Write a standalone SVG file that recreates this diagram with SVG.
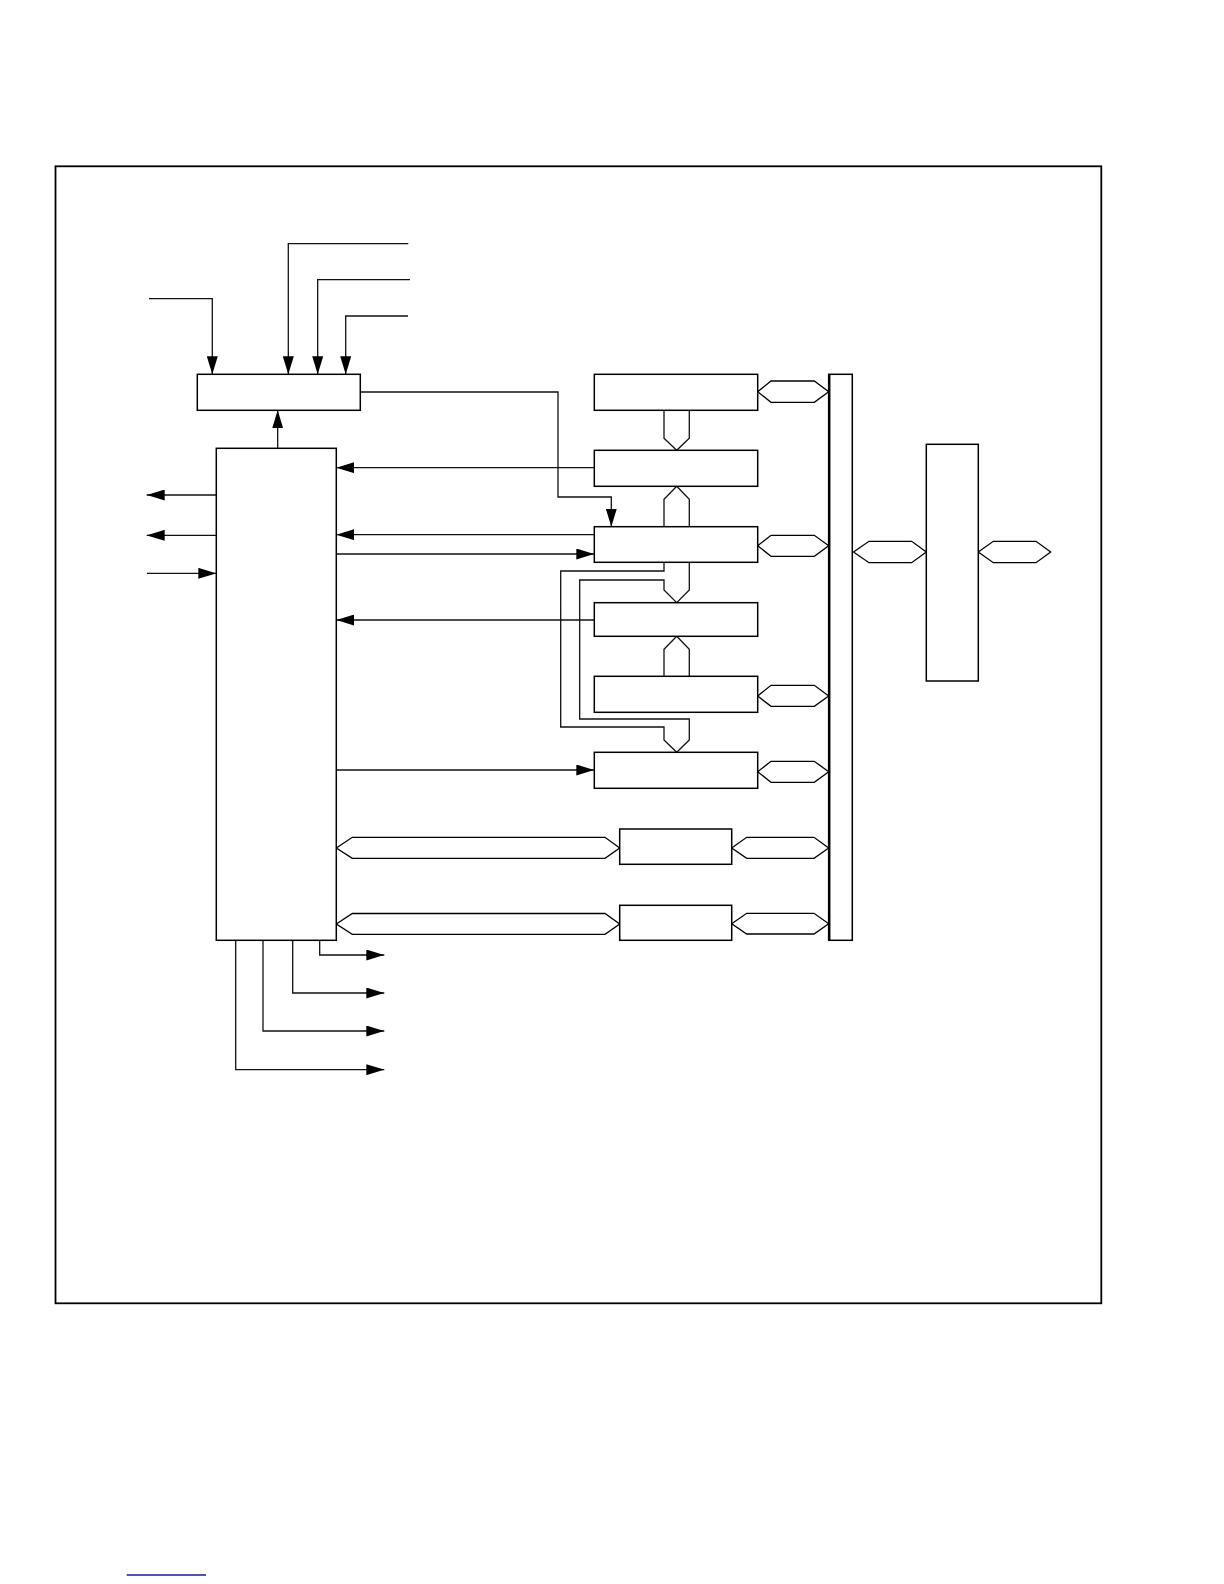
<svg xmlns="http://www.w3.org/2000/svg" width="1224" height="1584" viewBox="0 0 1224 1584">
<defs>
<marker id="ah" markerUnits="userSpaceOnUse" markerWidth="18" markerHeight="11" refX="18" refY="5.5" orient="auto">
<path d="M0,0 L18,5.5 L0,11 z" fill="#000"/>
</marker>
<style>
.box{fill:#fff;stroke:#000;stroke-width:1.5}
.ln{fill:none;stroke:#111;stroke-width:1.3}
.hx{fill:#fff;stroke:#000;stroke-width:1.3}
.arr{fill:none;stroke:#111;stroke-width:1.3;marker-end:url(#ah)}
</style>
</defs>
<rect width="1224" height="1584" fill="#fff"/>
<rect x="55.5" y="166.3" width="1045.8" height="1137" fill="none" stroke="#000" stroke-width="1.8"/>

<g id="connectors">
<!-- inputs to top box -->
<polyline class="arr" points="149,298.7 212.3,298.7 212.3,374.3"/>
<polyline class="arr" points="408.3,243.7 288.3,243.7 288.3,374.3"/>
<polyline class="arr" points="410,279.7 317.7,279.7 317.7,374.3"/>
<polyline class="arr" points="408,316 345.7,316 345.7,374.3"/>
<line class="arr" x1="277.7" y1="448.3" x2="277.7" y2="410.3"/>
<polyline class="arr" points="360.3,392 558,392 558,497 611.3,497 611.3,526.7"/>
<!-- left side of main -->
<line class="arr" x1="216.3" y1="495" x2="146.7" y2="495"/>
<line class="arr" x1="216.3" y1="535.3" x2="146.7" y2="535.3"/>
<line class="arr" x1="147" y1="573.3" x2="216.3" y2="573.3"/>
<!-- right side of main -->
<line class="arr" x1="594.3" y1="467.7" x2="336.3" y2="467.7"/>
<line class="arr" x1="594.3" y1="534.7" x2="336.3" y2="534.7"/>
<line class="arr" x1="336.3" y1="554" x2="594.3" y2="554"/>
<line class="arr" x1="594.3" y1="620" x2="336.3" y2="620"/>
<line class="arr" x1="336.3" y1="770" x2="594.3" y2="770"/>
<!-- bottom outputs -->
<polyline class="arr" points="319.7,940.3 319.7,955 384.3,955"/>
<polyline class="arr" points="292.7,940.3 292.7,993 384.3,993"/>
<polyline class="arr" points="263,940.3 263,1031 384.3,1031"/>
<polyline class="arr" points="235.7,940.3 235.7,1069.7 384.3,1069.7"/>
<!-- bus arrows between boxes -->
<polyline class="ln" points="664,410.3 664,438.3 676.7,450.3 689.3,438.3 689.3,410.3"/>
<polyline class="ln" points="664,526.7 664,499.3 676.7,486.3 689.3,499.3 689.3,526.7"/>
<polyline class="ln" points="664,676.3 664,649.3 676.7,636.3 689.3,649.3 689.3,676.3"/>
<polyline class="ln" points="664,562.3 664,571 560.7,571 560.7,727 664,727 664,740 676.7,752.3 689.3,740 689.3,719 579.7,719 579.7,580 664,580 664,590 676.7,602.7 689.3,590 689.3,562.3"/>
<!-- hexagon buses -->
<polygon class="hx" points="757.7,391.7 771,381 814.3,381 828.7,391.7 814.3,402.3 771,402.3"/>
<polygon class="hx" points="757.7,545.7 771,535.3 814.3,535.3 828.7,545.7 814.3,556.3 771,556.3"/>
<polygon class="hx" points="757.7,696 771,685.3 814.3,685.3 828.7,696 814.3,706.3 771,706.3"/>
<polygon class="hx" points="757.7,771.7 771,761.3 814.3,761.3 828.7,771.7 814.3,782.3 771,782.3"/>
<polygon class="hx" points="731.7,848 746.7,837.3 814,837.3 828.7,848 814,858.3 746.7,858.3"/>
<polygon class="hx" points="731.7,923.7 746.7,913.3 814,913.3 828.7,923.7 814,934 746.7,934"/>
<polygon class="hx" points="336.3,848 352.3,837.3 605,837.3 619.7,848 605,858.3 352.3,858.3"/>
<polygon class="hx" points="336.3,924 352.3,913.5 605,913.5 619.7,924 605,934.3 352.3,934.3"/>
<polygon class="hx" points="853.5,552 869,541.3 911.7,541.3 926.3,552 911.7,562.7 869,562.7"/>
<polygon class="hx" points="978.3,552 993.3,541.3 1036,541.3 1050.7,552 1036,562.7 993.3,562.7"/>
</g>

<g id="ctrl"><rect class="box" x="197.3" y="374.3" width="163" height="36"/></g>
<g id="main"><rect class="box" x="216.3" y="448.3" width="120" height="492"/></g>
<g id="boxA"><rect class="box" x="594.3" y="374.3" width="163.4" height="36"/></g>
<g id="boxB"><rect class="box" x="594.3" y="450.3" width="163.4" height="36"/></g>
<g id="boxC"><rect class="box" x="594.3" y="526.7" width="163.4" height="35.6"/></g>
<g id="boxD"><rect class="box" x="594.3" y="602.7" width="163.4" height="33.6"/></g>
<g id="boxE"><rect class="box" x="594.3" y="676.3" width="163.4" height="36"/></g>
<g id="boxF"><rect class="box" x="594.3" y="752.3" width="163.4" height="36"/></g>
<g id="boxG"><rect class="box" x="619.7" y="829" width="112" height="35.3"/></g>
<g id="boxH"><rect class="box" x="619.7" y="905.3" width="112" height="35"/></g>
<g id="bus"><rect class="box" x="828.7" y="374.3" width="23.6" height="566"/><line x1="829.2" y1="374.3" x2="829.2" y2="940.3" stroke="#000" stroke-width="2.5"/></g>
<g id="ext"><rect class="box" x="926.3" y="444.3" width="52" height="236.7"/></g>

<line x1="126.7" y1="1575" x2="206" y2="1575" stroke="#1a1a9a" stroke-width="1.3"/>
</svg>
